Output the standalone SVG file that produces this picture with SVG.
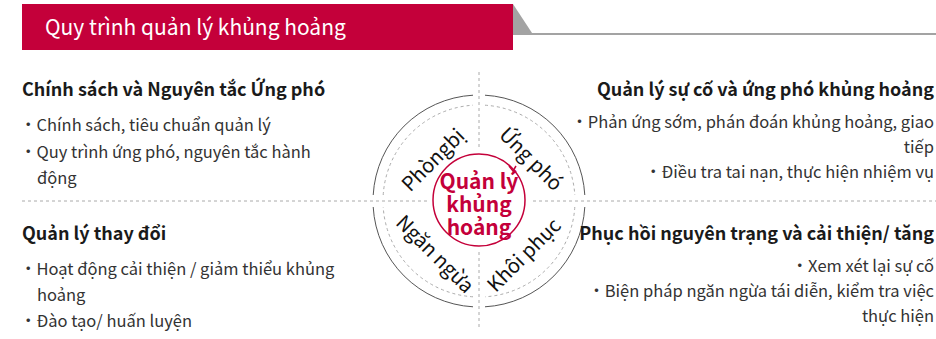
<svg xmlns="http://www.w3.org/2000/svg" width="936" height="339" viewBox="0 0 936 339">
<style>
text{font-family:"Noto Sans CJK KR","Noto Sans",sans-serif;fill:#1a1a1a}
.h{font-size:18px;font-weight:bold}
.b{font-size:16.5px;fill:#333}
.r{text-anchor:end}
.q{font-size:20px;fill:#111;text-anchor:middle}
.c{font-size:21px;font-weight:bold;fill:#c4003a;text-anchor:middle}
.ax{stroke:#aaa;stroke-width:1;stroke-dasharray:3 3;fill:none}
.ring{stroke:#555;stroke-width:1;fill:none}
.dring{stroke:#aaa;stroke-width:1;stroke-dasharray:3 3;fill:none}
</style>
<g id="header">
<rect x="22" y="4" width="491" height="46" fill="#c4003a"/>
<polygon points="513,4 532,33 513,33" fill="#a3a3a3"/>
<rect x="513" y="33" width="423" height="2" fill="#a3a3a3"/>
<text x="45" y="35" style="font-size:21px;fill:#fff">Quy trình quản lý khủng hoảng</text>
</g>
<g id="connectors">
<line class="ax" x1="479" y1="72" x2="479" y2="149"/>
<line class="ax" x1="479" y1="252" x2="479" y2="330"/>
<line class="ax" x1="22" y1="201" x2="427" y2="201"/>
<line class="ax" x1="533" y1="201" x2="936" y2="201"/>
</g>
<g id="cycle">
<path class="ring" d="M373.2,195 A106,106 0 0 1 473,95.2 M485,95.2 A106,106 0 0 1 584.8,195 M584.8,207 A106,106 0 0 1 485,306.8 M473,306.8 A106,106 0 0 1 373.2,207"/>
<path class="dring" d="M383.2,195 A96,96 0 0 1 473,105.2 M485,105.2 A96,96 0 0 1 574.8,195 M574.8,207 A96,96 0 0 1 485,296.8 M473,296.8 A96,96 0 0 1 383.2,207"/>
<text class="q" transform="translate(438,165) rotate(-45)" style="word-spacing:-4px">Phòng bị</text>
<text class="q" transform="translate(526,164) rotate(45)">Ứng phó</text>
<text class="q" transform="translate(430,259) rotate(45)">Ngăn ngừa</text>
<text class="q" transform="translate(529,260) rotate(-45)">Khôi phục</text>
</g>
<g id="center">
<circle cx="479" cy="200" r="46" fill="none" stroke="#c4003a" stroke-width="1.5"/>
<path d="M509,166 L513,171 L516,166" fill="none" stroke="#c4003a" stroke-width="1.5"/>
<text class="c" x="479" y="189">Quản lý</text>
<text class="c" x="479" y="212">khủng</text>
<text class="c" x="479" y="235">hoảng</text>
</g>
<g id="policy">
<text class="h" x="22" y="96">Chính sách và Nguyên tắc Ứng phó</text>
<text class="b" x="20" y="131">・Chính sách, tiêu chuẩn quản lý</text>
<text class="b" x="20" y="158">・Quy trình ứng phó, nguyên tắc hành</text>
<text class="b" x="37" y="184">động</text>
</g>
<g id="change">
<text class="h" x="22" y="240">Quản lý thay đổi</text>
<text class="b" x="20" y="275">・Hoạt động cải thiện / giảm thiểu khủng</text>
<text class="b" x="37" y="301">hoảng</text>
<text class="b" x="20" y="327">・Đào tạo/ huấn luyện</text>
</g>
<g id="response">
<text class="h r" x="934" y="96">Quản lý sự cố và ứng phó khủng hoảng</text>
<text class="b r" x="934" y="128">・Phản ứng sớm, phán đoán khủng hoảng, giao</text>
<text class="b r" x="934" y="153">tiếp</text>
<text class="b r" x="934" y="178">・Điều tra tai nạn, thực hiện nhiệm vụ</text>
</g>
<g id="recovery">
<text class="h r" x="934" y="240">Phục hồi nguyên trạng và cải thiện/ tăng</text>
<text class="b r" x="934" y="272">・Xem xét lại sự cố</text>
<text class="b r" x="934" y="297">・Biện pháp ngăn ngừa tái diễn, kiểm tra việc</text>
<text class="b r" x="934" y="322">thực hiện</text>
</g>
</svg>
